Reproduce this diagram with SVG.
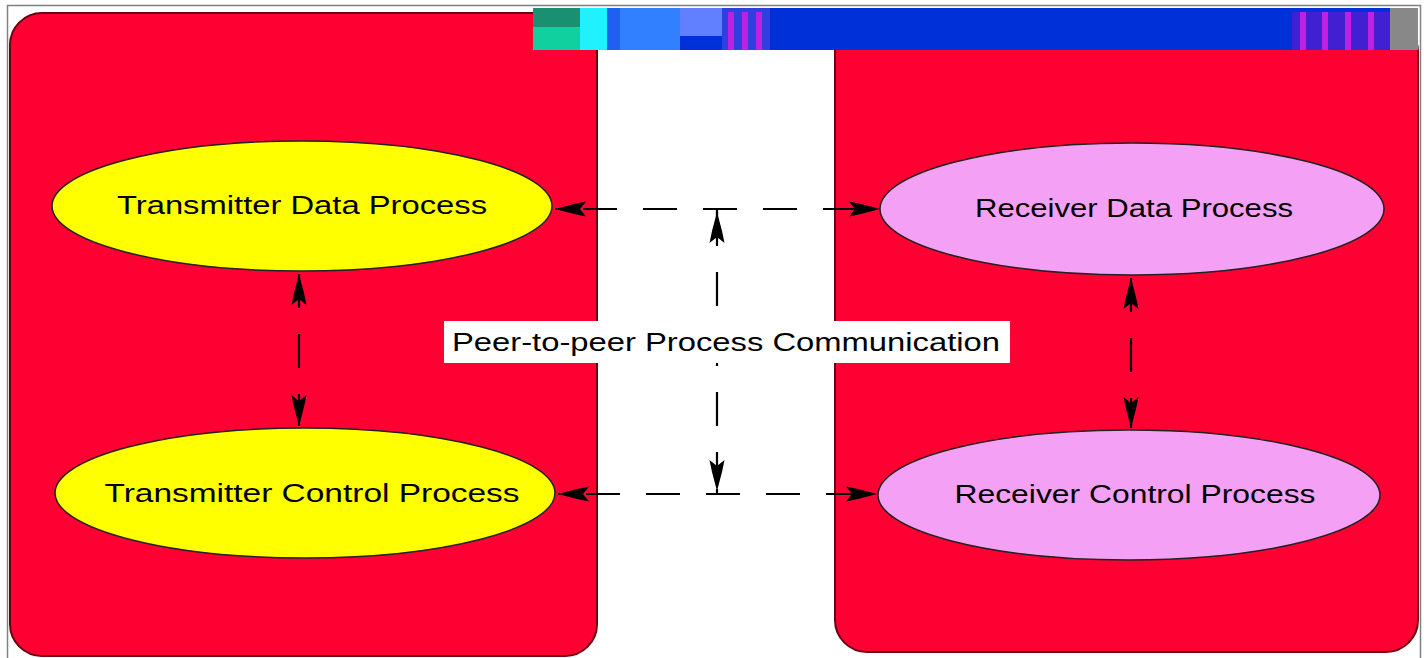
<svg xmlns="http://www.w3.org/2000/svg" width="1424" height="658" viewBox="0 0 1424 658">
<defs>
<style>
.box{fill:#ff0033;stroke:#6a0010;stroke-width:2}
.tx{fill:#ffff00;stroke:#222;stroke-width:1.5}
.rx{fill:#f4a0f4;stroke:#222;stroke-width:1.5}
.lbl{font-family:"Liberation Sans",Arial,sans-serif;font-size:25px;fill:#000;text-anchor:middle}
.con{stroke:#000;stroke-width:2.2;fill:none;stroke-dasharray:34 26}
</style>
<marker id="ah" markerUnits="userSpaceOnUse" viewBox="0 0 32 18" refX="31" refY="9" markerWidth="32" markerHeight="18" orient="auto-start-reverse">
<path d="M0,1.5 L12,4 L31,9 L12,14 L0,16.5 L6,9 Z" fill="#000"/>
</marker>
</defs>
<rect x="7.5" y="5.5" width="1413" height="660" fill="#fff" stroke="#808080" stroke-width="1.5"/>
<g id="transmitter-box"><rect class="box" x="10" y="13" width="587" height="643" rx="32" ry="32"/></g>
<g id="receiver-box"><rect class="box" x="835" y="20" width="583" height="632" rx="32" ry="32"/></g>
<g id="glitch-bar">
<rect x="533" y="8" width="857" height="42" fill="#0030d8"/>
<rect x="533" y="8" width="47" height="19" fill="#1a9070"/>
<rect x="533" y="27" width="47" height="23" fill="#10d0a0"/>
<rect x="580" y="8" width="27" height="42" fill="#20f0ff"/>
<rect x="607" y="8" width="13" height="42" fill="#2060f0"/>
<rect x="620" y="8" width="60" height="42" fill="#3080ff"/>
<rect x="680" y="8" width="42" height="28" fill="#6080ff"/>
<rect x="722" y="8" width="48" height="42" fill="#3040e0"/>
<rect x="728" y="12" width="6" height="38" fill="#c020e0"/>
<rect x="742" y="12" width="6" height="38" fill="#c020e0"/>
<rect x="756" y="12" width="6" height="38" fill="#c020e0"/>
<rect x="1292" y="12" width="98" height="38" fill="#4020d0"/>
<rect x="1300" y="12" width="6" height="38" fill="#c020e0"/>
<rect x="1322" y="12" width="6" height="38" fill="#c020e0"/>
<rect x="1345" y="12" width="6" height="38" fill="#c020e0"/>
<rect x="1368" y="12" width="6" height="38" fill="#c020e0"/>
<rect x="1390" y="8" width="28" height="42" fill="#888"/>
</g>
<g id="connectors">
<line class="con" x1="555" y1="209" x2="880" y2="209" stroke-dashoffset="32" marker-start="url(#ah)" marker-end="url(#ah)"/>
<line class="con" x1="558" y1="494" x2="877" y2="494" stroke-dashoffset="32" marker-start="url(#ah)" marker-end="url(#ah)"/>
<line class="con" x1="717" y1="212" x2="717" y2="491" stroke-dashoffset="0" stroke-dasharray="30 24" marker-start="url(#ah)" marker-end="url(#ah)"/>
<line x1="717" y1="209" x2="717" y2="215" stroke="#000" stroke-width="2.2"/>
<line x1="717" y1="489" x2="717" y2="494" stroke="#000" stroke-width="2.2"/>
<line class="con" x1="299" y1="274" x2="299" y2="426" stroke-dasharray="58 24 30 24" marker-start="url(#ah)" marker-end="url(#ah)"/>
<line class="con" x1="1131" y1="278" x2="1131" y2="428" stroke-dasharray="58 24 30 24" marker-start="url(#ah)" marker-end="url(#ah)"/>
</g>
<g id="tx-data"><ellipse class="tx" cx="302" cy="206" rx="250" ry="65"/><text class="lbl" x="302" y="214" textLength="370" lengthAdjust="spacingAndGlyphs">Transmitter Data Process</text></g>
<g id="tx-control"><ellipse class="tx" cx="305" cy="493" rx="250" ry="65"/><text class="lbl" x="312" y="502" textLength="415" lengthAdjust="spacingAndGlyphs">Transmitter Control Process</text></g>
<g id="rx-data"><ellipse class="rx" cx="1132" cy="209" rx="252" ry="66"/><text class="lbl" x="1134" y="217" textLength="318" lengthAdjust="spacingAndGlyphs">Receiver Data Process</text></g>
<g id="rx-control"><ellipse class="rx" cx="1129" cy="495" rx="251" ry="65"/><text class="lbl" x="1135" y="503" textLength="361" lengthAdjust="spacingAndGlyphs">Receiver Control Process</text></g>
<g id="peer-label"><rect x="444" y="321" width="566" height="42" fill="#fff"/><text class="lbl" x="726" y="351" textLength="548" lengthAdjust="spacingAndGlyphs">Peer-to-peer Process Communication</text></g>
</svg>
